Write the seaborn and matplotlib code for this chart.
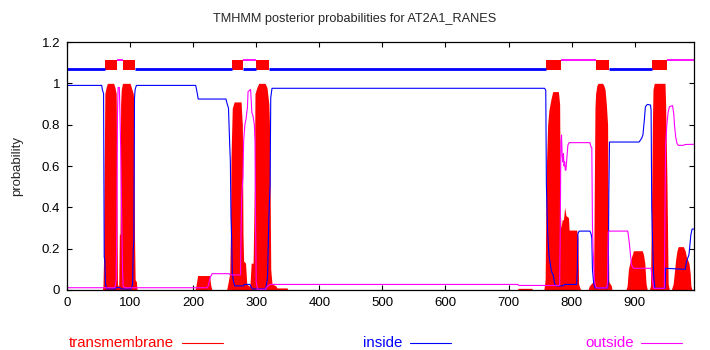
import matplotlib
matplotlib.use("Agg")
import matplotlib.pyplot as plt
import seaborn as sns
import pandas as pd
from matplotlib.lines import Line2D

# ---- per-residue posterior probabilities (residue, probability) ----
tm_pos = [0, 56, 57, 58, 59, 60, 62, 64, 74, 76, 78, 79, 80, 81, 82, 83, 84, 85, 86, 88,
          100, 102, 105, 106, 107, 108, 110, 111,
          203, 205, 207, 226, 228, 230,
          253, 255, 258, 259, 260, 262, 265, 276, 277, 278, 279, 280, 283, 285, 288,
          290, 292, 295, 297, 298, 301, 304, 314, 317, 320, 321, 322, 323, 325, 331, 333, 349, 350,
          714, 715, 737, 738,
          756, 758, 759, 760, 762, 764, 767, 770, 779, 781, 782, 783, 785, 787, 789, 791, 795,
          796, 808, 810, 811, 813, 815,
          826, 828, 834, 835, 836, 837, 838, 840, 842, 849, 851, 853, 855, 857, 858, 859, 863, 864,
          886, 888, 890, 893, 896, 898, 912, 914, 916, 918, 920,
          923, 925, 927, 928, 929, 931, 948, 949, 950, 951, 952, 953, 955,
          958, 961, 963, 965, 967, 969, 977, 980, 982, 986, 988, 989, 991, 994]
tm_prob = [0, 0, 0.02, 0.15, 0.6, 0.95, 0.98, 1.0, 1.0, 0.98, 0.95, 0.5, 0.03, 0.02, 0.02, 0.27, 0.27, 0.9, 0.97, 1.0,
           1.0, 0.98, 0.95, 0.9, 0.26, 0.05, 0.04, 0,
           0, 0.03, 0.07, 0.07, 0.02, 0,
           0, 0.03, 0.08, 0.25, 0.64, 0.88, 0.91, 0.91, 0.85, 0.8, 0.27, 0.14, 0.13, 0.03, 0.02,
           0.02, 0.13, 0.13, 0.5, 0.95, 0.98, 1.0, 1.0, 0.98, 0.9, 0.8, 0.5, 0.1, 0.03, 0.02, 0.01, 0.01, 0,
           0, 0.008, 0.008, 0,
           0, 0.05, 0.36, 0.6, 0.8, 0.87, 0.92, 0.96, 0.96, 0.9, 0.4, 0.3, 0.34, 0.34, 0.4, 0.36, 0.35,
           0.29, 0.29, 0.25, 0.03, 0.01, 0,
           0, 0.02, 0.04, 0.12, 0.5, 0.88, 0.95, 0.99, 1.0, 1.0, 0.99, 0.97, 0.9, 0.8, 0.3, 0.04, 0.02, 0,
           0, 0.02, 0.1, 0.14, 0.17, 0.19, 0.19, 0.17, 0.13, 0.03, 0,
           0, 0.02, 0.5, 0.8, 0.97, 1.0, 1.0, 0.9, 0.72, 0.55, 0.3, 0.03, 0,
           0, 0.03, 0.09, 0.15, 0.19, 0.21, 0.21, 0.19, 0.16, 0.13, 0.08, 0.02, 0, 0]

inside_pos = [1, 55, 56, 58, 59, 60, 61, 63, 76, 78, 84, 86, 102, 104, 105, 106, 107, 108, 110,
              204, 206, 208, 252, 254, 256, 258, 259, 260, 261, 262, 264, 266, 280, 281, 290, 292, 294,
              315, 317, 318, 320, 322, 323, 325,
              757, 759, 760, 761, 762, 764, 766, 768, 771, 773, 776, 787, 788, 808, 809, 810, 812,
              829, 831, 832, 833, 835, 837, 857, 858, 859, 860, 907, 911, 913, 915, 917, 920, 925,
              926, 927, 928, 930, 932, 948, 949, 980, 982, 986, 989, 991, 994]
inside_prob = [0.99, 0.99, 0.97, 0.95, 0.16, 0.14, 0.03, 0.005, 0.005, 0.012, 0.012, 0.005, 0.005, 0.03,
               0.2, 0.24, 0.93, 0.97, 0.99,
               0.99, 0.96, 0.924, 0.924, 0.9, 0.88, 0.7, 0.62, 0.35, 0.25, 0.08, 0.04, 0.02, 0.02, 0.027,
               0.027, 0.015, 0.005,
               0.005, 0.04, 0.07, 0.35, 0.51, 0.93, 0.976,
               0.976, 0.967, 0.51, 0.38, 0.28, 0.17, 0.13, 0.09, 0.07, 0.03, 0.02, 0.02, 0.027, 0.027,
               0.1, 0.274, 0.285,
               0.285, 0.27, 0.25, 0.1, 0.03, 0.01, 0.01, 0.04, 0.47, 0.716, 0.716, 0.734, 0.75, 0.814,
               0.887, 0.898, 0.895,
               0.87, 0.4, 0.27, 0.07, 0.008, 0.008, 0.105, 0.1, 0.137, 0.17, 0.266, 0.295, 0.295]

outside_pos = [1, 76, 78, 79, 80, 81, 83, 84, 85, 86, 87, 88, 89, 91,
               222, 224, 227, 230, 257, 259, 275, 276, 277, 279, 280, 282, 284, 285, 286, 287, 291,
               292, 293, 295, 297, 298, 299, 300, 302, 315, 317, 319, 322,
               715, 716, 780, 781, 782, 783, 784, 785, 786, 787, 788, 789, 790, 791, 792, 794, 796,
               829, 831, 832, 833, 834, 836, 838, 840, 856, 857, 858, 860,
               889, 891, 893, 895, 898, 926, 928, 930, 947, 948, 949, 951, 953, 955, 960, 962, 963,
               965, 967, 969, 977, 980, 994]
outside_prob = [0.011, 0.011, 0.05, 0.3, 0.85, 0.98, 0.98, 0.85, 0.7, 0.5, 0.3, 0.1, 0.02, 0.011,
                0.011, 0.02, 0.06, 0.079, 0.079, 0.073, 0.073, 0.3, 0.45, 0.55, 0.72, 0.8, 0.83, 0.86,
                0.88, 0.96, 0.97,
                0.92, 0.86, 0.84, 0.8, 0.72, 0.3, 0.04, 0.003, 0.003, 0.015, 0.02, 0.027,
                0.027, 0.022, 0.022, 0.024, 0.3, 0.72, 0.75, 0.65, 0.62, 0.66, 0.6, 0.62, 0.58, 0.58,
                0.62, 0.7, 0.713,
                0.713, 0.69, 0.69, 0.314, 0.2, 0.05, 0.016, 0.01, 0.01, 0.05, 0.28, 0.285,
                0.285, 0.24, 0.18, 0.12, 0.105, 0.105, 0.05, 0.008, 0.008, 0.4, 0.7, 0.8, 0.86, 0.887,
                0.892, 0.85, 0.8,
                0.74, 0.71, 0.7, 0.7, 0.704, 0.705]

# ---- predicted topology segments (start, end) ----
tm_start = [60, 88, 261, 299, 760, 838, 928]
tm_end = [80, 108, 279, 321, 783, 859, 951]
inside_start = [0, 108, 279, 321, 859]
inside_end = [60, 261, 299, 760, 928]
outside_start = [80, 279, 783, 951]
outside_end = [88, 299, 838, 994]

x_ticks = [0, 100, 200, 300, 400, 500, 600, 700, 800, 900]
y_ticks = [0, 0.2, 0.4, 0.6, 0.8, 1.0, 1.2]
y_tick_labels = ["0", "0.2", "0.4", "0.6", "0.8", "1", "1.2"]

RED, BLUE, MAGENTA = "#ff0000", "#0000ff", "#ff00ff"

sns.set_style("ticks")
plt.rcParams["font.family"] = ["Liberation Sans", "DejaVu Sans"]

fig = plt.figure(figsize=(7.1, 3.5), dpi=100)
ax = fig.add_axes([67 / 710, 60 / 350, 627 / 710, 248 / 350])

tm_df = pd.DataFrame({"residue": tm_pos, "prob": tm_prob})
in_df = pd.DataFrame({"residue": inside_pos, "prob": inside_prob})
out_df = pd.DataFrame({"residue": outside_pos, "prob": outside_prob})

# transmembrane probability as solid impulses
ax.fill_between(tm_df["residue"], 0, tm_df["prob"], color=RED, linewidth=0)

sns.lineplot(data=in_df, x="residue", y="prob", color=BLUE, lw=0.8, estimator=None,
             sort=False, ax=ax)
sns.lineplot(data=out_df, x="residue", y="prob", color=MAGENTA, lw=0.8, estimator=None,
             sort=False, ax=ax)

# topology track above the curves
for s, e in zip(inside_start, inside_end):
    ax.plot([s, e], [1.07, 1.07], color=BLUE, lw=2.0, solid_capstyle="butt")
for s, e in zip(outside_start, outside_end):
    ax.plot([s, e], [1.112, 1.112], color=MAGENTA, lw=1.3, solid_capstyle="butt")
for s, e in zip(tm_start, tm_end):
    ax.fill_between([s, e], 1.065, 1.113, color=RED, linewidth=0)

ax.set_xlim(0, 994)
ax.set_ylim(0, 1.2)
ax.set_xticks(x_ticks)
ax.set_yticks(y_ticks)
ax.set_yticklabels(y_tick_labels)
ax.set_xlabel("")
ax.set_ylabel("probability", fontsize=9.5, labelpad=13)
ax.tick_params(direction="in", length=3.5, width=0.8, top=True, right=True,
               labelsize=9.5, colors="black", pad=5)
for sp in ax.spines.values():
    sp.set_visible(True)
    sp.set_color("black")
    sp.set_linewidth(0.9)

fig.text(0.5, 1 - 19 / 350, "TMHMM posterior probabilities for AT2A1_RANES",
         ha="center", va="center", fontsize=9.2)

# legend row along the bottom
legend_items = [("transmembrane", RED, 69, 182, 223),
                ("inside", BLUE, 363, 410, 451),
                ("outside", MAGENTA, 585, 641, 682)]
ly = 1 - 343 / 350
for label, col, tx, l0, l1 in legend_items:
    fig.text(tx / 710, ly, label, color=col, ha="left", va="center", fontsize=10.8)
    fig.add_artist(Line2D([l0 / 710, l1 / 710], [ly, ly], color=col, lw=0.8,
                          transform=fig.transFigure))

fig.savefig("out.png", dpi=100)
